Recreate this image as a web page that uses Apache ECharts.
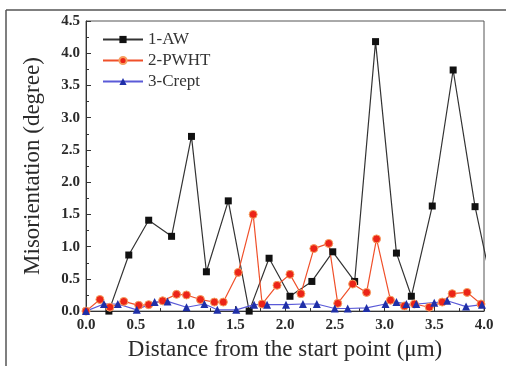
<!DOCTYPE html>
<html>
<head>
<meta charset="utf-8">
<script src="https://cdn.jsdelivr.net/npm/echarts@6/dist/echarts.min.js"></script>
<style>
  html, body { margin: 0; padding: 0; background: #fff; }
  #chart { width: 506px; height: 366px; }
</style>
</head>
<body>
<div id="chart"></div>
<script>
// 1-AW
const awX = [0.23, 0.43, 0.63, 0.86, 1.06, 1.21, 1.43, 1.64, 1.84, 2.05, 2.27, 2.48, 2.70, 2.91, 3.12, 3.27, 3.48, 3.69, 3.91, 4.12]
const awY = [0.0, 0.87, 1.41, 1.16, 2.71, 0.61, 1.71, 0.0, 0.82, 0.23, 0.46, 0.92, 0.46, 4.18, 0.90, 0.23, 1.63, 3.74, 1.62, 0.1]

// 2-PWHT
const pwhtX = [0.0, 0.14, 0.24, 0.38, 0.53, 0.63, 0.77, 0.91, 1.01, 1.15, 1.29, 1.38, 1.53, 1.68, 1.77, 1.92, 2.05, 2.16, 2.29, 2.44, 2.53, 2.68, 2.82, 2.92, 3.06, 3.20, 3.30, 3.45, 3.58, 3.68, 3.83, 3.97]
const pwhtY = [0.0, 0.18, 0.06, 0.15, 0.09, 0.1, 0.16, 0.26, 0.25, 0.18, 0.14, 0.14, 0.6, 1.5, 0.11, 0.4, 0.57, 0.27, 0.97, 1.05, 0.12, 0.42, 0.29, 1.12, 0.17, 0.08, 0.11, 0.06, 0.14, 0.27, 0.29, 0.11]

// 3-Crept
const creptX = [0.0, 0.18, 0.32, 0.51, 0.69, 0.82, 1.01, 1.19, 1.32, 1.51, 1.69, 1.82, 2.01, 2.18, 2.32, 2.50, 2.63, 2.82, 3.01, 3.12, 3.22, 3.32, 3.50, 3.63, 3.82, 3.98]
const creptY = [0.0, 0.11, 0.11, 0.02, 0.14, 0.15, 0.06, 0.11, 0.02, 0.02, 0.10, 0.10, 0.10, 0.11, 0.11, 0.04, 0.04, 0.05, 0.11, 0.14, 0.11, 0.11, 0.13, 0.16, 0.07, 0.10]

const xTicks = { min: 0, max: 4, interval: 0.5 }
const yTicks = { min: 0, max: 4.5, interval: 0.5 }

const pairs = (xs, ys) => xs.map((x, i) => [x, ys[i]])

const serif = '"Liberation Serif", "DejaVu Serif", serif'
const chart = echarts.init(document.getElementById('chart'))

const axisCommon = {
  axisLine: { show: true, lineStyle: { color: '#333', width: 1 } },
  axisTick: { show: true, inside: true, length: 5, lineStyle: { color: '#333' } },
  minorTick: { show: true, splitNumber: 2, length: 3, lineStyle: { color: '#333' } },
  splitLine: { show: false },
  axisLabel: {
    fontFamily: serif, fontWeight: 'bold', fontSize: 15, color: '#2a2a2a',
    formatter: v => v.toFixed(1)
  },
  nameTextStyle: { fontFamily: serif, fontSize: 23, color: '#2a2a2a' }
}

chart.setOption({
  animation: false,
  backgroundColor: '#fff',
  grid: {
    left: 86, top: 21, right: 22, bottom: 53,
    show: true, borderColor: '#555', borderWidth: 1
  },
  graphic: [
    { type: 'line', shape: { x1: 6, y1: 10, x2: 506, y2: 10 }, style: { stroke: '#555', lineWidth: 1.5 } },
    { type: 'line', shape: { x1: 6, y1: 10, x2: 6, y2: 366 }, style: { stroke: '#555', lineWidth: 1.5 } }
  ],
  legend: {
    left: 97, top: 26, orient: 'vertical',
    itemWidth: 40, itemHeight: 9, itemGap: 4,
    textStyle: { fontFamily: serif, fontSize: 17, color: '#333' },
    data: ['1-AW', '2-PWHT', '3-Crept']
  },
  xAxis: {
    type: 'value', ...xTicks,
    ...axisCommon,
    axisLabel: { ...axisCommon.axisLabel, margin: 7 },
    name: 'Distance from the start point (μm)',
    nameLocation: 'middle', nameGap: 26
  },
  yAxis: {
    type: 'value', ...yTicks,
    ...axisCommon,
    axisLabel: { ...axisCommon.axisLabel, margin: 6 },
    name: 'Misorientation (degree)',
    nameLocation: 'middle', nameGap: 42
  },
  series: [
    {
      name: '1-AW', type: 'line', data: pairs(awX, awY),
      symbol: 'rect', symbolSize: 7,
      lineStyle: { color: '#333', width: 1.2 },
      itemStyle: { color: '#111' }
    },
    {
      name: '2-PWHT', type: 'line', data: pairs(pwhtX, pwhtY),
      symbol: 'circle', symbolSize: 8,
      lineStyle: { color: '#f0502a', width: 1.2 },
      itemStyle: { color: '#ec2418', borderColor: '#f6a060', borderWidth: 1 }
    },
    {
      name: '3-Crept', type: 'line', data: pairs(creptX, creptY),
      symbol: 'triangle', symbolSize: 8,
      lineStyle: { color: '#5a5ad8', width: 1.2 },
      itemStyle: { color: '#1f2fa8' }
    }
  ]
})
</script>
</body>
</html>
